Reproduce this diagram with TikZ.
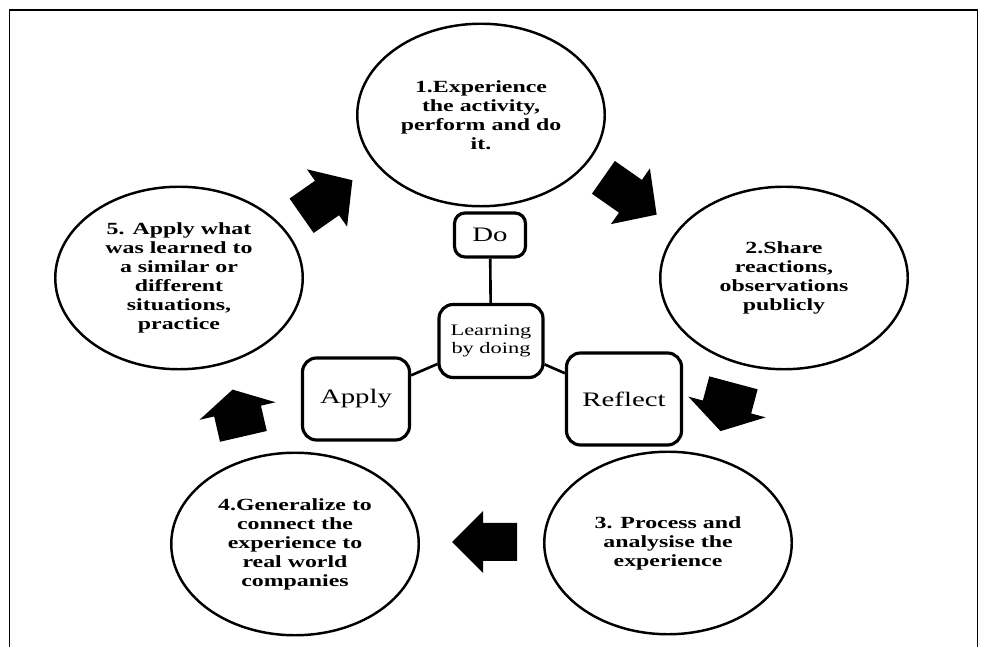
\documentclass[tikz,border=0pt]{standalone}
\usepackage{fontspec}
\setmainfont{Liberation Serif}[FakeStretch=1.4]
\usetikzlibrary{shapes.geometric,positioning}
\tikzset{
  phase/.style={ellipse, draw, line width=1.4pt, minimum width=4.95cm,
    minimum height=3.65cm, inner sep=0pt, align=center,
    font=\bfseries\fontsize{9.7}{10.8}\selectfont},
  tag/.style={draw, rounded corners=6pt, line width=1.8pt, inner sep=0pt,
    align=center, font=\fontsize{11.7}{13}\selectfont},
  link/.style={line width=1.5pt},
  % filled block arrow: length, shaft width, head width, head length
  pics/cyclearrow/.style n args={4}{code={
    \fill (-#1/2,-#2/2) -- ({#1/2-#4},-#2/2) -- ({#1/2-#4},-#3/2) -- (#1/2,0)
      -- ({#1/2-#4},#3/2) -- ({#1/2-#4},#2/2) -- (-#1/2,#2/2) -- cycle;
  }},
}

\begin{document}
\begin{tikzpicture}
\useasboundingbox (0,0) rectangle (19.78,12.94);
\draw[line width=1.1pt] (0.19,0) |- (19.55,12.74) -- (19.55,0);

% the five stages
\node[phase] (s1) at (9.62,10.64) {1.Experience\\the activity,\\perform and do\\it.};
\node[phase] (s2) at (15.68,7.38) {2.Share\\reactions,\\observations\\publicly};
\node[phase] (s3) at (13.36,2.08) {3. Process and\\analysise the\\experience};
\node[phase] (s4) at (5.90,2.06) {4.Generalize to\\connect the\\experience to\\real world\\companies};
\node[phase] (s5) at (3.58,7.38) {5. Apply what\\was learned to\\a similar or\\different\\situations,\\practice};

% hub and its three labels
\node[tag, minimum width=2.08cm, minimum height=1.46cm, rounded corners=8pt,
  font=\fontsize{9.1}{10.4}\selectfont] (learn) at (9.82,6.12) {Learning\\by doing};
\node[tag, minimum width=1.42cm, minimum height=0.88cm] (do) at (9.80,8.24) {Do};
\node[tag, minimum width=2.30cm, minimum height=1.84cm, rounded corners=8pt] (reflect) at (12.48,4.96) {Reflect};
\node[tag, minimum width=2.14cm, minimum height=1.64cm, rounded corners=8pt] (apply) at (7.12,4.96) {Apply};

\draw[link] (learn) -- (do);
\draw[link] (learn) -- (reflect);
\draw[link] (learn) -- (apply);

% arrows round the cycle
\pic[rotate=-35] (a12) at (12.60,9.02) {cyclearrow={1.30}{0.80}{1.36}{0.64}};
\pic[rotate=-105] (a23) at (14.54,4.80) {cyclearrow={1.00}{1.00}{1.60}{0.50}};
\pic[rotate=180] (a34) at (9.69,2.10) {cyclearrow={1.30}{0.76}{1.24}{0.62}};
\pic[rotate=103] (a45) at (4.76,4.68) {cyclearrow={0.96}{0.96}{1.56}{0.44}};
\pic[rotate=35] (a51) at (6.54,8.98) {cyclearrow={1.24}{0.84}{1.40}{0.62}};
\end{tikzpicture}
\end{document}
